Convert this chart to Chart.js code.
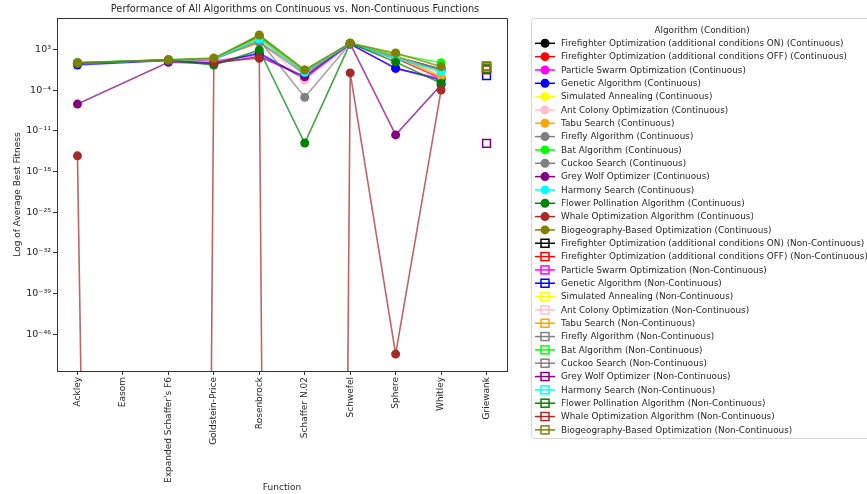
<!DOCTYPE html>
<html>
<head>
<meta charset="utf-8">
<script src="https://cdn.jsdelivr.net/npm/chart.js@4.4.0/dist/chart.umd.min.js"></script>
<style>
  html, body { margin: 0; padding: 0; background: #fff; }
</style>
</head>
<body>
<canvas id="chart" width="867" height="494"></canvas>
<script>
// categories on the x axis
const functions = ['Ackley', 'Easom', "Expanded Schaffer's F6", 'Goldstein-Price', 'Rosenbrock',
  'Schaffer N.02', 'Schwefel', 'Sphere', 'Whitley', 'Griewank'];

const algorithms = [
  'Firefighter Optimization (additional conditions ON)',
  'Firefighter Optimization (additional conditions OFF)',
  'Particle Swarm Optimization', 'Genetic Algorithm', 'Simulated Annealing',
  'Ant Colony Optimization', 'Tabu Search', 'Firefly Algorithm', 'Bat Algorithm',
  'Cuckoo Search', 'Grey Wolf Optimizer', 'Harmony Search',
  'Flower Pollination Algorithm', 'Whale Optimization Algorithm',
  'Biogeography-Based Optimization'
];
const conditions = ['Continuous', 'Non-Continuous'];

// average best fitness, continuous runs (null = not run, 0 = exact zero)
const ffOn    = [4.8, null, 15, 20, 2.0e5, 0.15, 1.1e4, 60, 0.38, null];
const ffOff   = [4.5, null, 15, 18, 1.0e5, 0.1, 1.0e4, 30, 0.011, null];
const pso     = [4.0, null, 14, 10, 120, 0.02, 9e3, 0.5, 0.01, null];
const ga      = [2.1, null, 13, 4, 250, 0.008, 8e3, 0.6, 0.0055, null];
const sa      = [5.0, null, 15, 22, 9e4, 0.2, 1.1e4, 100, 0.1, null];
const aco     = [4.6, null, 15, 18, 3e4, 0.005, 1.0e4, 40, 0.05, null];
const tabu    = [5.0, null, 15, 25, 1.3e4, 0.3, 1.1e4, 80, 0.02, null];
const firefly = [4.4, null, 15, 20, 4e4, 6e-6, 1.0e4, 20, 0.3, null];
const bat     = [5.3, null, 16, 28, 1.5e5, 0.25, 1.1e4, 150, 5.1, null];
const cuckoo  = [4.4, null, 15, 20, 2e4, 0.05, 1.0e4, 50, 0.4, null];
const gwo     = [4.0e-7, null, 6.0, 4, 60, 0.02, 1.0e4, 2e-12, 8e-4, null];
const harmony = [4.9, null, 15, 20, 6e4, 0.12, 1.0e4, 30, 0.15, null];
const fpa     = [4.2, null, 15, 2.0, 800, 8e-14, 1.1e4, 7, 0.0015, null];
const woa     = [5.0e-16, null, 0, 6.3, 30, 0, 0.09, 4e-50, 1.0e-4, null];
const bbo     = [5.2, null, 16, 32, 3.0e5, 0.29, 1.2e4, 250, 1.1, null];
const continuous = [ffOn, ffOff, pso, ga, sa, aco, tabu, firefly, bat, cuckoo, gwo, harmony, fpa, woa, bbo];

// non-continuous runs only exist for Griewank, one value per algorithm
const griewankNonCont = [1.0, 0.8, 0.5, 0.03, 1.2, 0.6, 0.7, 1.5, 1.5, 1.4, 7e-14, 0.9, 0.45, 0.3, 1.1];

// y tick exponents
const yTickExps = [3, -4, -11, -18, -25, -32, -39, -46];

const colors = ['#000000', '#ff0000', '#ff00ff', '#0000ff', '#ffff00', '#ffc0cb', '#ffa500', '#808080',
  '#00ff00', '#808080', '#800080', '#00ffff', '#008000', '#a52a2a', '#808000'];

// matplotlib clips non-positive values on a log axis far below the view
const toLog = v => v == null ? null : (v <= 0 ? -1000 : Math.log10(v));
const sup = n => String(n).split('').map(c => ({'-':'\u207b','0':'\u2070','1':'\u00b9','2':'\u00b2','3':'\u00b3','4':'\u2074','5':'\u2075','6':'\u2076','7':'\u2077','8':'\u2078','9':'\u2079'})[c]).join('');

const datasets = [];
continuous.forEach((vals, i) => {
  datasets.push({
    label: algorithms[i] + ' (' + conditions[0] + ')',
    data: vals.map((v, k) => ({ x: k, y: toLog(v) })),
    borderColor: colors[i] + 'b8',
    backgroundColor: colors[i],
    pointBackgroundColor: colors[i],
    pointBorderWidth: 0,
    pointRadius: 4.5,
    borderWidth: 1.6,
    spanGaps: true,
    kind: 'c'
  });
});
griewankNonCont.forEach((v, i) => {
  datasets.push({
    label: algorithms[i] + ' (' + conditions[1] + ')',
    data: functions.map((f, k) => ({ x: k, y: f === 'Griewank' ? toLog(v) : null })),
    borderColor: colors[i],
    backgroundColor: colors[i],
    pointStyle: 'rect',
    pointBackgroundColor: 'rgba(0,0,0,0)',
    pointBorderColor: colors[i],
    pointBorderWidth: 1.5,
    pointRadius: 5.5,
    borderWidth: 1.5,
    kind: 'n'
  });
});
datasets.forEach((d, i) => { d.order = datasets.length - i; });

const TXT = '#262626';
Chart.defaults.font.family = 'DejaVu Sans';
Chart.defaults.color = TXT;

const extras = {
  id: 'extras',
  afterDraw(chart) {
    const ctx = chart.ctx, a = chart.chartArea;
    ctx.save();
    // top/right spines
    ctx.strokeStyle = '#333';
    ctx.lineWidth = 1;
    ctx.beginPath();
    ctx.moveTo(a.left, a.top + 0.5); ctx.lineTo(a.right + 0.5, a.top + 0.5); ctx.lineTo(a.right + 0.5, a.bottom);
    ctx.stroke();
    // title
    ctx.fillStyle = TXT;
    ctx.font = '9.8px "DejaVu Sans"';
    ctx.textAlign = 'center';
    ctx.textBaseline = 'middle';
    ctx.fillText('Performance of All Algorithms on Continuous vs. Non-Continuous Functions', (a.left + a.right) / 2 + 13, 9);
    // legend
    const lx = 531, ly = 18, lw = 345, lh = 420;
    ctx.strokeStyle = '#d5d5d5';
    ctx.beginPath();
    ctx.roundRect(lx + 0.5, ly + 0.5, lw, lh, 3);
    ctx.fillStyle = 'rgba(255,255,255,0.8)';
    ctx.fill();
    ctx.stroke();
    ctx.fillStyle = TXT;
    ctx.font = '8.85px "DejaVu Sans"';
    ctx.fillText('Algorithm (Condition)', 702, 30.5);
    ctx.textAlign = 'left';
    chart.data.datasets.forEach((d, i) => {
      const cy = 43.3 + i * 13.33;
      ctx.strokeStyle = d.backgroundColor;
      ctx.lineWidth = 1.5;
      ctx.beginPath(); ctx.moveTo(535, cy); ctx.lineTo(555, cy); ctx.stroke();
      if (d.kind === 'c') {
        ctx.fillStyle = d.backgroundColor;
        ctx.beginPath(); ctx.arc(545, cy, 4.5, 0, Math.PI * 2); ctx.fill();
      } else {
        ctx.strokeRect(541, cy - 4, 8, 8);
      }
      ctx.fillStyle = TXT;
      ctx.fillText(d.label, 561, cy + 0.5);
    });
    ctx.restore();
  }
};

new Chart(document.getElementById('chart'), {
  type: 'line',
  data: { datasets },
  options: {
    responsive: false,
    animation: false,
    layout: { padding: { left: 12, right: 360, top: 18, bottom: 0 } },
    plugins: { legend: { display: false }, tooltip: { enabled: false } },
    scales: {
      x: {
        type: 'linear', min: -0.45, max: 9.45,
        afterBuildTicks: s => { s.ticks = functions.map((f, i) => ({ value: i })); },
        afterFit: s => { s.height = 494 - 371; },
        ticks: { callback: v => functions[v], minRotation: 90, maxRotation: 90, padding: 2, font: { size: 9 }, color: TXT },
        grid: { drawOnChartArea: false, tickLength: 4, color: '#333' },
        border: { color: '#333' },
        title: { display: true, text: 'Function', font: { size: 9 }, padding: { top: 0, bottom: 1 }, color: TXT }
      },
      y: {
        type: 'linear', min: -52.3, max: 8.4,
        afterBuildTicks: s => { s.ticks = yTickExps.map(v => ({ value: v })); },
        afterFit: s => { s.width = 57 - 12; },
        ticks: { callback: v => '10' + sup(v), padding: 2, font: { size: 9.5 }, color: TXT },
        grid: { drawOnChartArea: false, tickLength: 4, color: '#333' },
        border: { color: '#333' },
        title: { display: true, text: 'Log of Average Best Fitness', font: { size: 9 }, padding: 0, color: TXT }
      }
    }
  },
  plugins: [extras]
});
</script>
</body>
</html>
